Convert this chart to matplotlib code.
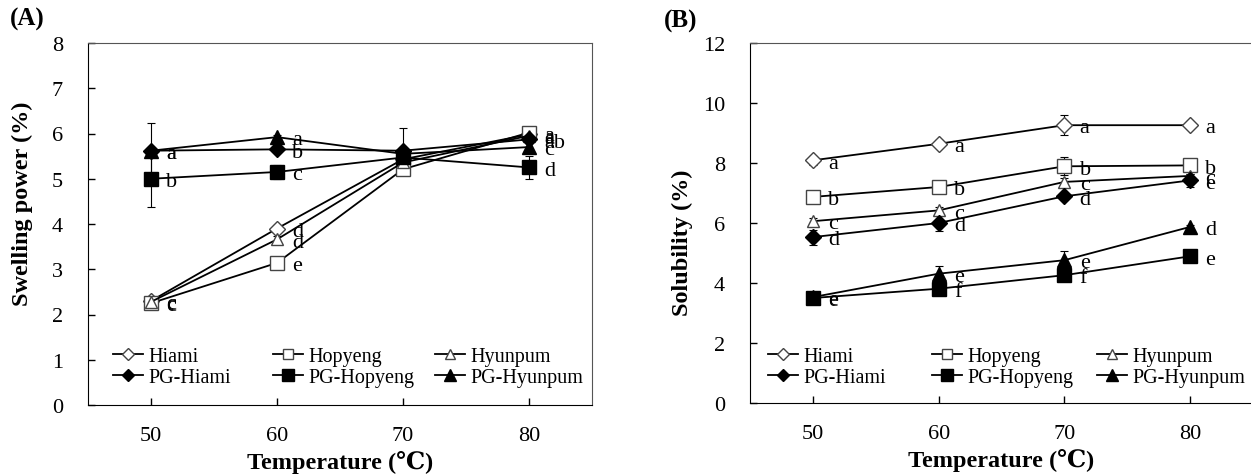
import matplotlib
matplotlib.use("Agg")
import matplotlib.pyplot as plt
from matplotlib.legend import Legend
import numpy as np

plt.rcParams['font.family'] = ['Liberation Serif', 'DejaVu Serif']

temps = [50, 60, 70, 80]
names = ['Hiami', 'Hopyeng', 'Hyunpum', 'PG-Hiami', 'PG-Hopyeng', 'PG-Hyunpum']

# (A) swelling power
sp_hiami = [2.30, 3.90, 5.43, 5.98]
sp_hopyeng = [2.25, 3.14, 5.21, 6.02]
sp_hyunpum = [2.28, 3.66, 5.36, 5.95]
sp_pg_hiami = [5.62, 5.65, 5.62, 5.87]
sp_pg_hopyeng = [5.00, 5.15, 5.47, 5.25]
sp_pg_hyunpum = [5.62, 5.92, 5.55, 5.70]

sp_err_hiami = [0.05, 0.08, 0.10, 0.05]
sp_err_hopyeng = [0.05, 0.10, 0.10, 0.05]
sp_err_hyunpum = [0.05, 0.08, 0.10, 0.05]
sp_err_pg_hiami = [0.05, 0.05, 0.50, 0.05]
sp_err_pg_hopyeng = [0.62, 0.15, 0.10, 0.25]
sp_err_pg_hyunpum = [0.62, 0.05, 0.10, 0.10]

sp_let_hiami = ['c', 'd', '', 'a']
sp_let_hopyeng = ['c', 'e', '', 'a']
sp_let_hyunpum = ['c', 'd', '', 'a']
sp_let_pg_hiami = ['a', 'b', '', 'ab']
sp_let_pg_hopyeng = ['b', 'c', '', 'd']
sp_let_pg_hyunpum = ['a', 'a', '', 'c']

# (B) solubility
sol_hiami = [8.09, 8.64, 9.26, 9.26]
sol_hopyeng = [6.87, 7.20, 7.89, 7.92]
sol_hyunpum = [6.06, 6.42, 7.37, 7.57]
sol_pg_hiami = [5.53, 6.00, 6.89, 7.42]
sol_pg_hopyeng = [3.50, 3.81, 4.26, 4.89]
sol_pg_hyunpum = [3.53, 4.31, 4.76, 5.87]

sol_err_hiami = [0.15, 0.12, 0.33, 0.08]
sol_err_hopyeng = [0.05, 0.12, 0.30, 0.10]
sol_err_hyunpum = [0.10, 0.10, 0.12, 0.05]
sol_err_pg_hiami = [0.25, 0.25, 0.12, 0.22]
sol_err_pg_hopyeng = [0.10, 0.05, 0.10, 0.08]
sol_err_pg_hyunpum = [0.05, 0.27, 0.30, 0.05]

sol_let_hiami = ['a', 'a', 'a', 'a']
sol_let_hopyeng = ['b', 'b', 'b', 'b']
sol_let_hyunpum = ['c', 'c', 'c', 'c']
sol_let_pg_hiami = ['d', 'd', 'd', 'e']
sol_let_pg_hopyeng = ['e', 'f', 'f', 'e']
sol_let_pg_hyunpum = ['e', 'e', 'e', 'd']

styles = [
    dict(marker='D', mfc='white', mec='#444444', ms=8),
    dict(marker='s', mfc='white', mec='#444444', ms=9.5),
    dict(marker='^', mfc='white', mec='#444444', ms=9),
    dict(marker='D', mfc='black', mec='black', ms=8),
    dict(marker='s', mfc='black', mec='black', ms=10.5),
    dict(marker='^', mfc='black', mec='black', ms=10),
]

fig = plt.figure(figsize=(12.51, 4.77), dpi=100)
axA = fig.add_axes([88/1251, 71/477, 504/1251, 362/477])
axB = fig.add_axes([750/1251, 73/477, 503/1251, 360/477])


def draw(ax, series, errs, letters, ylim, yticks, ylabel, lab_xy, leg_x, leg_y):
    handles = []
    for y, e, let, st in zip(series, errs, letters, styles):
        ax.errorbar(temps, y, yerr=e, fmt='none', ecolor='black',
                    elinewidth=0.8, capsize=3, capthick=0.8, zorder=2)
        h, = ax.plot(temps, y, color='black', lw=1.3, zorder=3, **st)
        handles.append(h)
        for xx, yy, t in zip(temps, y, let):
            if t:
                ax.annotate(t, (xx, yy), xytext=(11, -2), textcoords='offset points',
                            ha='left', va='center', fontsize=16)
    ax.set_xlim(45, 85)
    ax.set_ylim(*ylim)
    ax.set_xticks(temps)
    ax.set_yticks(yticks)
    ax.tick_params(direction='in', length=5, labelsize=16, width=1)
    ax.tick_params(axis='y', pad=18)
    ax.tick_params(axis='x', pad=15)
    for s in ['top', 'right']:
        ax.spines[s].set_color('#555555')
    ax.set_xlabel('Temperature (\u2103)', fontsize=17.5, fontweight='bold')
    ax.xaxis.set_label_coords(0.5, -0.125)
    ax.set_ylabel(ylabel, fontsize=17.5, fontweight='bold')
    ax.yaxis.set_label_coords(*lab_xy)
    # one legend per column so the columns sit at equal spacing
    for j in range(3):
        leg = Legend(ax, [handles[j], handles[j + 3]], [names[j], names[j + 3]],
                     loc='lower left', bbox_to_anchor=(leg_x[j], leg_y),
                     frameon=False, fontsize=14.5, handlelength=1.5,
                     handletextpad=0.25, labelspacing=0.1, markerscale=0.8,
                     borderpad=0, borderaxespad=0)
        ax.add_artist(leg)


draw(axA,
     [sp_hiami, sp_hopyeng, sp_hyunpum, sp_pg_hiami, sp_pg_hopyeng, sp_pg_hyunpum],
     [sp_err_hiami, sp_err_hopyeng, sp_err_hyunpum, sp_err_pg_hiami, sp_err_pg_hopyeng, sp_err_pg_hyunpum],
     [sp_let_hiami, sp_let_hopyeng, sp_let_hyunpum, sp_let_pg_hiami, sp_let_pg_hopyeng, sp_let_pg_hyunpum],
     (0, 8), range(0, 9), 'Swelling power (%)', (-0.109, 0.558),
     [0.050, 0.367, 0.688], 0.05)

draw(axB,
     [sol_hiami, sol_hopyeng, sol_hyunpum, sol_pg_hiami, sol_pg_hopyeng, sol_pg_hyunpum],
     [sol_err_hiami, sol_err_hopyeng, sol_err_hyunpum, sol_err_pg_hiami, sol_err_pg_hopyeng, sol_err_pg_hyunpum],
     [sol_let_hiami, sol_let_hopyeng, sol_let_hyunpum, sol_let_pg_hiami, sol_let_pg_hopyeng, sol_let_pg_hyunpum],
     (0, 12), range(0, 13, 2), 'Solubility (%)', (-0.113, 0.447),
     [0.036, 0.362, 0.690], 0.045)

fig.text(27/1251, 1 - 19/477, '(A)', fontsize=18, fontweight='bold', ha='center', va='center')
fig.text(681/1251, 1 - 21/477, '(B)', fontsize=18, fontweight='bold', ha='center', va='center')

fig.savefig('out.png', dpi=100)
